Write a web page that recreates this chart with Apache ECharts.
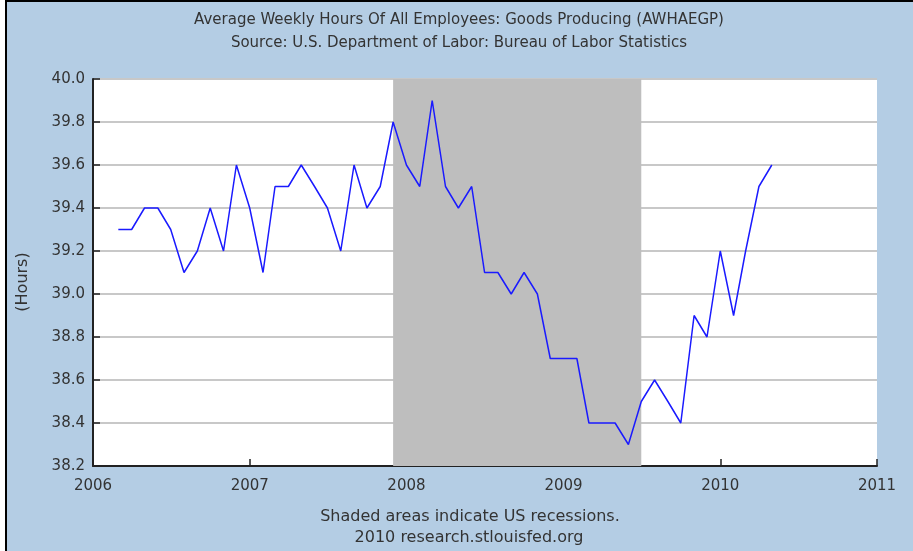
<!DOCTYPE html>
<html>
<head>
<meta charset="utf-8">
<script src="https://cdn.jsdelivr.net/npm/echarts@6/dist/echarts.min.js"></script>
<style>
  html, body { margin: 0; padding: 0; background: #ffffff; }
  #chart { width: 913px; height: 551px; }
</style>
</head>
<body>
<div id="chart"></div>
<script>
// monthly observations (first of month)
var months = [
  '2006-03-01', '2006-04-01', '2006-05-01', '2006-06-01', '2006-07-01', '2006-08-01',
  '2006-09-01', '2006-10-01', '2006-11-01', '2006-12-01',
  '2007-01-01', '2007-02-01', '2007-03-01', '2007-04-01', '2007-05-01', '2007-06-01',
  '2007-07-01', '2007-08-01', '2007-09-01', '2007-10-01', '2007-11-01', '2007-12-01',
  '2008-01-01', '2008-02-01', '2008-03-01', '2008-04-01', '2008-05-01', '2008-06-01',
  '2008-07-01', '2008-08-01', '2008-09-01', '2008-10-01', '2008-11-01', '2008-12-01',
  '2009-01-01', '2009-02-01', '2009-03-01', '2009-04-01', '2009-05-01', '2009-06-01',
  '2009-07-01', '2009-08-01', '2009-09-01', '2009-10-01', '2009-11-01', '2009-12-01',
  '2010-01-01', '2010-02-01', '2010-03-01', '2010-04-01', '2010-05-01'
];
var hours = [
  39.3, 39.3, 39.4, 39.4, 39.3, 39.1, 39.2, 39.4, 39.2, 39.6,
  39.4, 39.1, 39.5, 39.5, 39.6, 39.5, 39.4, 39.2, 39.6, 39.4, 39.5, 39.8,
  39.6, 39.5, 39.9, 39.5, 39.4, 39.5, 39.1, 39.1, 39.0, 39.1, 39.0, 38.7,
  38.7, 38.7, 38.4, 38.4, 38.4, 38.3, 38.5, 38.6, 38.5, 38.4, 38.9, 38.8,
  39.2, 38.9, 39.2, 39.5, 39.6
];
var recession = ['2007-12-01', '2009-07-01'];
var yTicks = [38.2, 38.4, 38.6, 38.8, 39.0, 39.2, 39.4, 39.6, 39.8, 40.0];

var font = 'DejaVu Sans';
var textColor = '#333333';

var seriesData = months.map(function (m, i) {
  return [m, hours[i]];
});

var myChart = echarts.init(document.getElementById('chart'));
var option = {
  animation: false,
  backgroundColor: '#ffffff',
  textStyle: { fontFamily: font },
  title: {
    text: 'Average Weekly Hours Of All Employees: Goods Producing (AWHAEGP)\nSource: U.S. Department of Labor: Bureau of Labor Statistics',
    left: 454,
    top: 4,
    textAlign: 'center',
    textStyle: {
      fontFamily: font,
      fontSize: 15,
      fontWeight: 'normal',
      color: textColor,
      lineHeight: 23
    }
  },
  graphic: [
    {
      type: 'rect',
      z: -10,
      shape: { x: 6, y: 1, width: 1000, height: 1000 },
      style: { fill: '#b4cde4', stroke: '#000000', lineWidth: 2 }
    },
    {
      type: 'text',
      x: 23,
      y: 282,
      rotation: Math.PI / 2,
      style: {
        text: '(Hours)',
        fontFamily: font,
        fontSize: 16,
        fill: textColor,
        align: 'center',
        verticalAlign: 'middle'
      }
    },
    {
      type: 'text',
      x: 470,
      y: 517,
      style: {
        text: 'Shaded areas indicate US recessions.',
        fontFamily: font,
        fontSize: 16,
        fill: textColor,
        align: 'center',
        verticalAlign: 'middle'
      }
    },
    {
      type: 'text',
      x: 469,
      y: 538,
      style: {
        text: '2010 research.stlouisfed.org',
        fontFamily: font,
        fontSize: 16,
        fill: textColor,
        align: 'center',
        verticalAlign: 'middle'
      }
    }
  ],
  grid: {
    left: 93,
    right: 36,
    top: 79,
    bottom: 85,
    show: true,
    backgroundColor: '#ffffff',
    borderWidth: 0
  },
  xAxis: {
    type: 'time',
    min: '2006-01-01',
    max: '2011-01-01',
    minInterval: 365 * 24 * 3600 * 1000,
    maxInterval: 366 * 24 * 3600 * 1000,
    axisLine: { show: true, lineStyle: { color: '#222222', width: 2 } },
    axisTick: { show: true, inside: true, length: 7, lineStyle: { color: '#222222', width: 1.5 } },
    axisLabel: {
      formatter: '{yyyy}',
      fontFamily: font,
      fontSize: 15,
      color: textColor,
      margin: 13,
      showMinLabel: true,
      showMaxLabel: true,
      hideOverlap: false
    },
    splitLine: { show: false }
  },
  yAxis: {
    type: 'value',
    min: yTicks[0],
    max: yTicks[yTicks.length - 1],
    interval: 0.2,
    axisLine: { show: true, lineStyle: { color: '#222222', width: 2 } },
    axisTick: { show: true, inside: true, length: 7, lineStyle: { color: '#222222', width: 1.5 } },
    axisLabel: {
      formatter: function (v) { return v.toFixed(1); },
      fontFamily: font,
      fontSize: 15,
      color: textColor,
      margin: 8
    },
    splitLine: { show: true, lineStyle: { color: '#c8c8c8', width: 2 } }
  },
  series: [
    {
      name: 'AWHAEGP',
      type: 'line',
      data: seriesData,
      showSymbol: false,
      lineStyle: { color: '#1a1aff', width: 1.5 },
      itemStyle: { color: '#1a1aff' },
      markArea: {
        silent: true,
        itemStyle: { color: '#bebebe', opacity: 1 },
        data: [[{ xAxis: recession[0] }, { xAxis: recession[1] }]]
      }
    }
  ]
};
myChart.setOption(option);

window.addEventListener('resize', function () {
  myChart.resize();
});
</script>
</body>
</html>
